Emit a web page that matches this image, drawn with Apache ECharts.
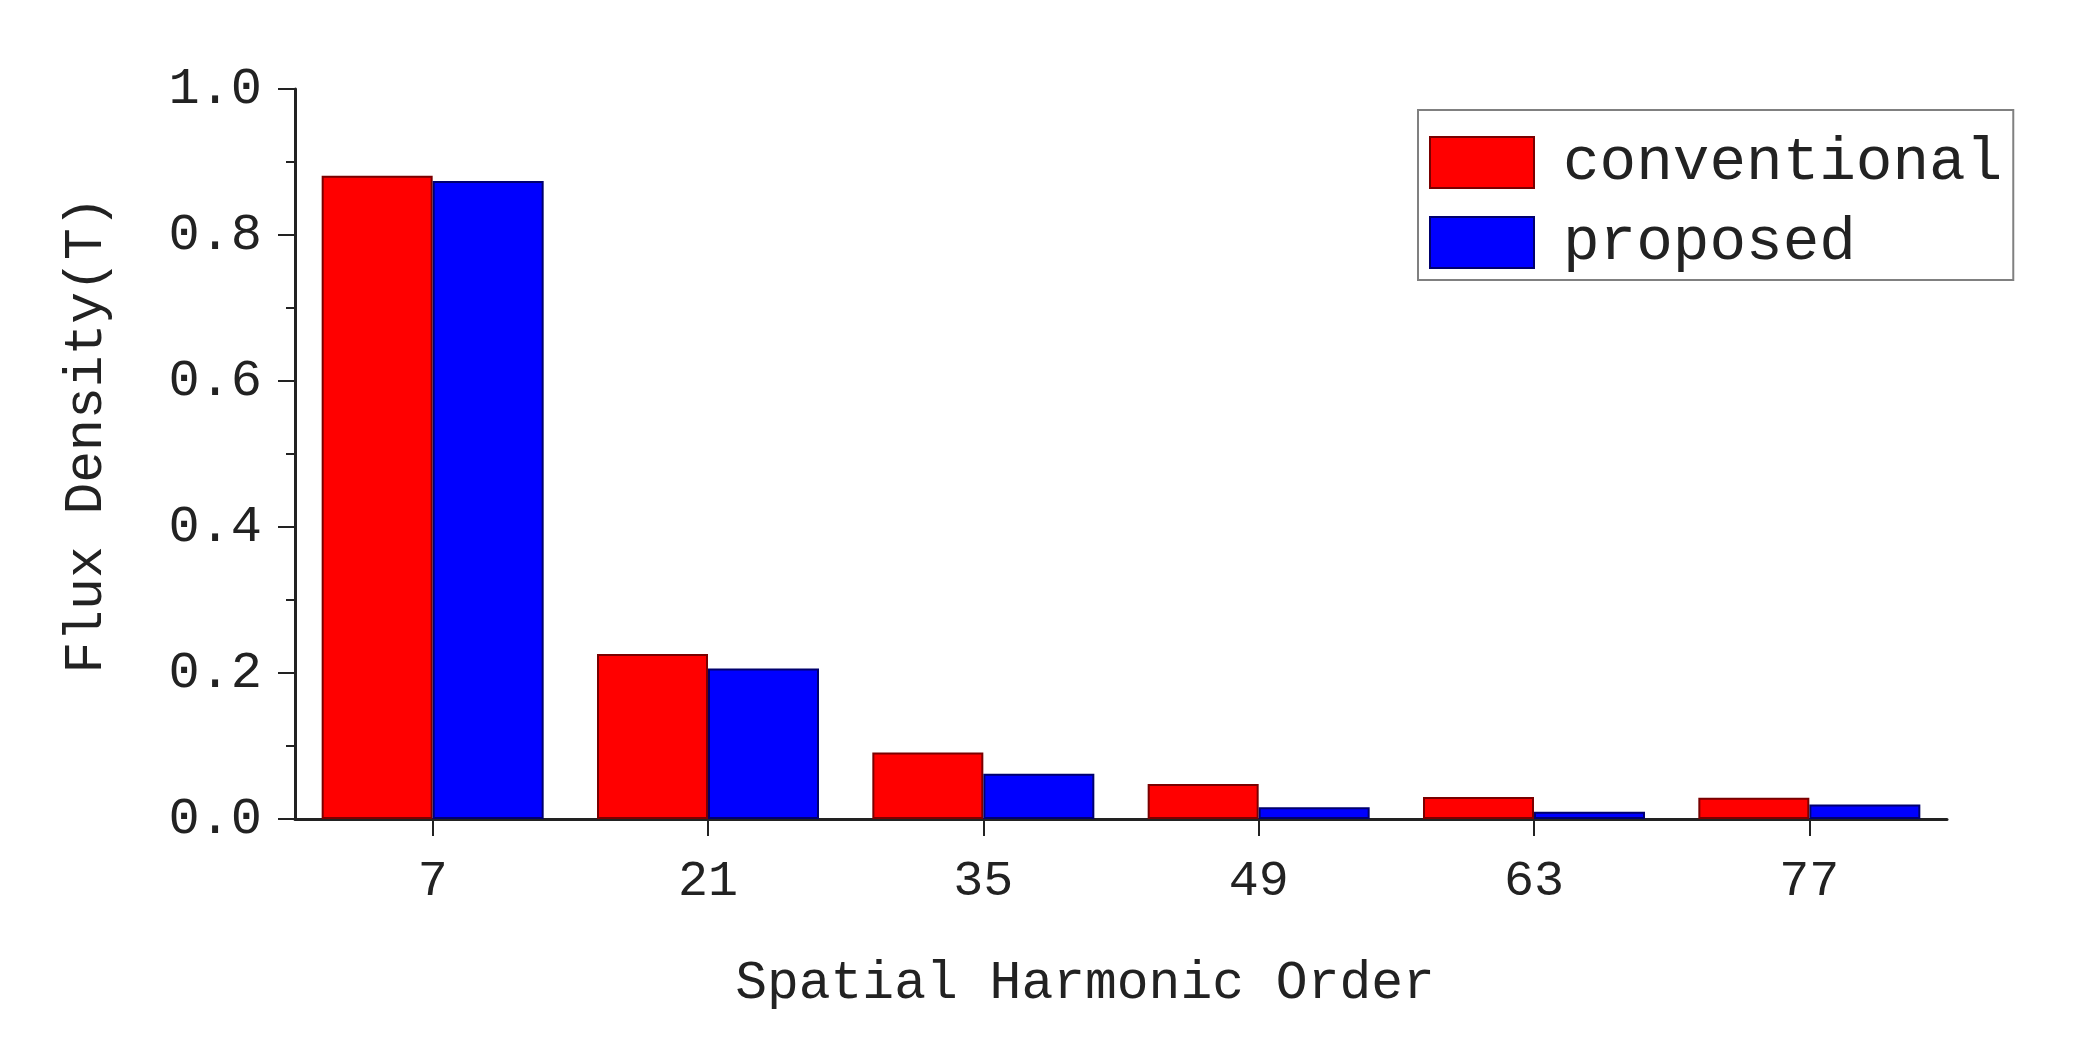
<!DOCTYPE html>
<html>
<head>
<meta charset="utf-8">
<script src="https://cdn.jsdelivr.net/npm/echarts@6/dist/echarts.min.js"></script>
<style>
html,body{margin:0;padding:0;background:#fff;}
#chart{width:2088px;height:1052px;}
</style>
</head>
<body>
<div id="chart"></div>
<script>
const categories = ['7', '21', '35', '49', '63', '77'];
const conventional = [0.881, 0.226, 0.091, 0.048, 0.030, 0.029];
const proposed = [0.874, 0.206, 0.062, 0.016, 0.010, 0.020];
const seriesNames = ['conventional', 'proposed'];

const FONT = '"Liberation Mono", "DejaVu Sans Mono", monospace';
const chart = echarts.init(document.getElementById('chart'));
chart.setOption({
  animation: false,
  backgroundColor: '#ffffff',
  grid: { left: 295, right: 141, top: 89, bottom: 233, containLabel: false },
  legend: {
    orient: 'vertical',
    left: 1418, top: 110,
    padding: [22, 11, 7, 11],
    borderColor: '#808080', borderWidth: 2,
    itemWidth: 104, itemHeight: 51, itemGap: 19,
    icon: 'rect',
    itemStyle: { borderWidth: 2 },
    textStyle: { fontFamily: FONT, fontSize: 61, color: '#222', padding: [0, 0, 0, 24] },
    data: seriesNames
  },
  xAxis: {
    type: 'category',
    data: categories,
    name: 'Spatial Harmonic Order',
    nameLocation: 'middle',
    nameGap: 138,
    nameTextStyle: { fontFamily: FONT, fontSize: 53, color: '#222', padding: [0, 72, 0, 0] },
    axisLine: { lineStyle: { color: '#222', width: 3 } },
    axisTick: { show: true, alignWithLabel: true, interval: 0, length: 17, inside: false, lineStyle: { color: '#222', width: 2 } },
    axisLabel: { fontFamily: FONT, fontSize: 50, color: '#222', margin: 38, interval: 0 },
    splitLine: { show: false }
  },
  yAxis: {
    type: 'value',
    min: 0, max: 1, interval: 0.2,
    name: 'Flux Density(T)',
    nameLocation: 'middle',
    nameGap: 182,
    nameTextStyle: { fontFamily: FONT, fontSize: 53, color: '#222', padding: [0, 0, 0, 38] },
    axisLine: { show: true, lineStyle: { color: '#222', width: 3 } },
    axisTick: { show: true, length: 17, lineStyle: { color: '#222', width: 2 } },
    minorTick: { show: true, splitNumber: 2, length: 9, lineStyle: { color: '#222', width: 2 } },
    axisLabel: { fontFamily: FONT, fontSize: 52, color: '#222', margin: 33, formatter: v => v.toFixed(1) },
    splitLine: { show: false }
  },
  series: [
    {
      name: seriesNames[0], type: 'bar', data: conventional,
      barWidth: 111, barGap: '0%',
      itemStyle: { color: '#ff0000', borderColor: '#7a0000', borderWidth: 2 }
    },
    {
      name: seriesNames[1], type: 'bar', data: proposed,
      barWidth: 111, barGap: '0%',
      itemStyle: { color: '#0000ff', borderColor: '#00006e', borderWidth: 2 }
    }
  ]
});
</script>
</body>
</html>
